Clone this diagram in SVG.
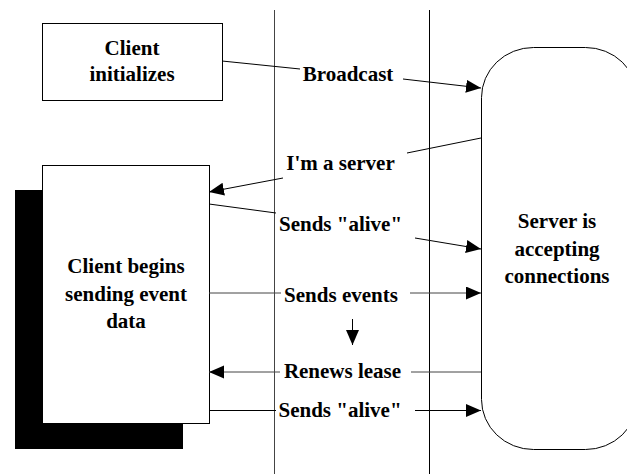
<svg xmlns="http://www.w3.org/2000/svg" width="627" height="474" viewBox="0 0 627 474">
<style>
.lbl{font-family:'Liberation Serif','Times New Roman',serif;font-weight:700;font-size:21px;fill:#000;text-anchor:middle}
.box{fill:#fff;stroke:#000;stroke-width:1}
.ln{fill:none;stroke:#000;stroke-width:1}
.gl{fill:none;stroke:#444;stroke-width:1}
</style>
<defs>
<marker id="ah" markerUnits="userSpaceOnUse" markerWidth="16" markerHeight="14" refX="15" refY="6.5" orient="auto">
<path d="M0,0 L15,6.5 L0,13 z" fill="#000"/>
</marker>
</defs>
<g id="lifelines">
<line class="gl" x1="274.5" y1="10" x2="274.5" y2="474"/>
<line class="ln" x1="429.5" y1="10" x2="429.5" y2="474"/>
</g>
<g id="client-init">
<rect class="box" x="42.5" y="23.5" width="180" height="77"/>
<text class="lbl" x="132" y="55">Client</text>
<text class="lbl" x="132" y="81">initializes</text>
</g>
<g id="client-send">
<rect x="15" y="190" width="168" height="259" fill="#000"/>
<rect class="box" x="42.5" y="165.5" width="167" height="258"/>
<text class="lbl" x="126" y="273">Client begins</text>
<text class="lbl" x="126" y="301">sending event</text>
<text class="lbl" x="126" y="328">data</text>
</g>
<g id="server">
<rect class="box" x="481.5" y="47.5" width="156" height="402" rx="52" ry="50"/>
<text class="lbl" x="557" y="228">Server is</text>
<text class="lbl" x="557" y="256">accepting</text>
<text class="lbl" x="557" y="283">connections</text>
</g>
<g id="connectors">
<path class="ln" d="M222,61 L300,69"/>
<path class="ln" d="M403,79 L481,88" marker-end="url(#ah)"/>
<path class="ln" d="M481,138 L407,153"/>
<path class="ln" d="M283,178 L209,192" marker-end="url(#ah)"/>
<path class="ln" d="M209,204 L276,213"/>
<path class="ln" d="M415,238 L481,249" marker-end="url(#ah)"/>
<path class="gl" d="M209,293 L281,293"/>
<path class="gl" d="M410,293 L481,293" marker-end="url(#ah)"/>
<path class="gl" d="M481,372 L411,372"/>
<path class="gl" d="M280,372 L209,372" marker-end="url(#ah)"/>
<path class="ln" d="M209,410.5 L276,410.5"/>
<path class="ln" d="M415,410.5 L481,410.5" marker-end="url(#ah)"/>
<path class="ln" d="M352.5,319 L352.5,345" marker-end="url(#ah)"/>
</g>
<g id="labels">
<text class="lbl" x="348" y="81">Broadcast</text>
<text class="lbl" x="340.5" y="170">I'm a server</text>
<text class="lbl" x="340.5" y="231">Sends "alive"</text>
<text class="lbl" x="341" y="302">Sends events</text>
<text class="lbl" x="342.5" y="378">Renews lease</text>
<text class="lbl" x="340" y="417">Sends "alive"</text>
</g>
</svg>
